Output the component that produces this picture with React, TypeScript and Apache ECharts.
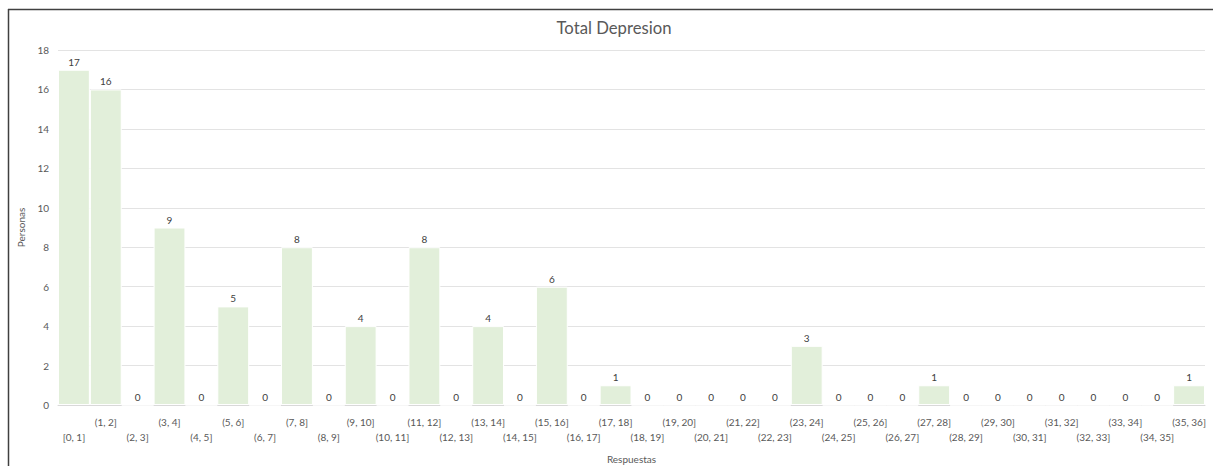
import React, { useEffect, useRef } from "react";
import * as echarts from "echarts";

const categories = [
  "[0, 1]", "(1, 2]", "(2, 3]", "(3, 4]", "(4, 5]", "(5, 6]", "(6, 7]", "(7, 8]", "(8, 9]",
  "(9, 10]", "(10, 11]", "(11, 12]", "(12, 13]", "(13, 14]", "(14, 15]", "(15, 16]", "(16, 17]",
  "(17, 18]", "(18, 19]", "(19, 20]", "(20, 21]", "(21, 22]", "(22, 23]", "(23, 24]", "(24, 25]",
  "(25, 26]", "(26, 27]", "(27, 28]", "(28, 29]", "(29, 30]", "(30, 31]", "(31, 32]", "(32, 33]",
  "(33, 34]", "(34, 35]", "(35, 36]",
];
const personas = [
  17, 16, 0, 9, 0, 5, 0, 8, 0, 4, 0, 8, 0, 4, 0, 6, 0, 1, 0, 0, 0, 0, 0, 3, 0, 0, 0, 1, 0, 0, 0, 0,
  0, 0, 0, 1,
];
const yTicks = { min: 0, max: 18, interval: 2 };

const FONT = "Lato";
const TXT = "#595959";

export default function App() {
  const ref = useRef<HTMLDivElement>(null);
  useEffect(() => {
    if (!ref.current) return;
    const chart = echarts.init(ref.current, undefined, { renderer: "svg" });
    chart.setOption({
      animation: false,
      backgroundColor: "#ffffff",
      textStyle: { fontFamily: FONT },
      title: {
        text: "Total Depresion",
        left: 609,
        top: 14,
        textAlign: "center",
        textStyle: { fontFamily: FONT, fontSize: 16.7, fontWeight: "normal", color: TXT },
      },
      graphic: [
        { type: "line", shape: { x1: 8, y1: 9.5, x2: 1213, y2: 9.5 }, style: { stroke: "#404040", lineWidth: 1.5 } },
        { type: "line", shape: { x1: 8.5, y1: 9, x2: 8.5, y2: 466 }, style: { stroke: "#404040", lineWidth: 1.5 } },
      ],
      grid: { left: 58, right: 8, top: 50, bottom: 61, containLabel: false, outerBoundsMode: "none" },
      xAxis: {
        type: "category",
        data: categories,
        name: "Respuestas",
        nameLocation: "middle",
        nameGap: 49,
        nameTextStyle: { fontFamily: FONT, fontSize: 10, color: TXT },
        axisLine: { lineStyle: { color: "#d9d9d9" } },
        axisTick: { show: false },
        axisLabel: {
          interval: 0,
          margin: 9,
          fontFamily: FONT,
          fontSize: 10,
          color: TXT,
          lineHeight: 15,
          formatter: (v: string, i: number) => (i % 2 === 0 ? "\n" + v : v),
        },
      },
      yAxis: {
        type: "value",
        min: yTicks.min,
        max: yTicks.max,
        interval: yTicks.interval,
        name: "Personas",
        nameLocation: "middle",
        nameGap: 31,
        nameTextStyle: { fontFamily: FONT, fontSize: 10, color: TXT },
        axisLine: { show: false },
        axisTick: { show: false },
        axisLabel: { fontFamily: FONT, fontSize: 10, color: TXT, margin: 9 },
        splitLine: { lineStyle: { color: "#e3e3e3" } },
      },
      series: [
        {
          type: "bar",
          data: personas,
          barCategoryGap: "0%",
          itemStyle: { color: "#e2efda", borderColor: "#ffffff", borderWidth: 1 },
          label: {
            show: true,
            position: "top",
            distance: 3,
            fontFamily: FONT,
            fontSize: 10,
            color: "#404040",
          },
        },
      ],
    });
    return () => chart.dispose();
  }, []);
  return (
    <div
      ref={ref}
      style={{ position: "fixed", left: 0, top: 0, width: 1213, height: 466 }}
    />
  );
}
